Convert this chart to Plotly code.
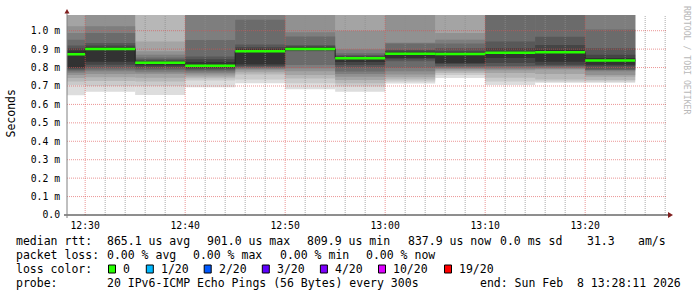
import plotly.graph_objects as go
from datetime import datetime, timedelta

# ---------------- data ----------------
day = "2026-02-08"
seg_end = ["12:30", "12:35", "12:40", "12:45", "12:50", "12:55",
           "13:00", "13:05", "13:10", "13:15", "13:20", "13:25"]
median_ms = [0.872, 0.901, 0.826, 0.810, 0.888, 0.901,
             0.850, 0.875, 0.874, 0.880, 0.883, 0.838]
# 20 sorted ping RTTs (ms) per 5-minute step
pings_0 = [0.650, 0.705, 0.725, 0.743, 0.760, 0.772, 0.780, 0.788, 0.795, 0.802,
           0.893, 0.905, 0.920, 0.951, 0.988, 1.024, 1.10, 1.15, 1.20, 1.30]
pings_1 = [0.669, 0.700, 0.727, 0.748, 0.765, 0.780, 0.790, 0.800, 0.815, 0.832,
           0.910, 0.920, 0.933, 0.988, 1.024, 1.10, 1.15, 1.20, 1.25, 1.30]
pings_2 = [0.651, 0.700, 0.725, 0.745, 0.765, 0.775, 0.785, 0.795, 0.805, 0.812,
           0.832, 0.838, 0.845, 0.855, 0.870, 0.888, 0.942, 1.10, 1.15, 1.20]
pings_3 = [0.693, 0.730, 0.742, 0.752, 0.762, 0.772, 0.780, 0.788, 0.795, 0.802,
           0.830, 0.845, 0.860, 0.950, 1.10, 1.15, 1.20, 1.30, 1.40, 1.50]
pings_4 = [0.715, 0.735, 0.762, 0.775, 0.785, 0.792, 0.797, 0.803, 0.810, 0.818,
           0.900, 0.910, 0.925, 1.060, 1.10, 1.15, 1.20, 1.30, 1.40, 1.50]
pings_5 = [0.682, 0.715, 0.740, 0.760, 0.780, 0.796, 0.814, 0.888, 0.893, 0.897,
           0.910, 0.915, 0.922, 0.968, 0.991, 1.10, 1.15, 1.20, 1.30, 1.40]
pings_6 = [0.669, 0.697, 0.715, 0.733, 0.750, 0.765, 0.778, 0.800, 0.814, 0.830,
           0.857, 0.862, 0.868, 0.877, 0.900, 1.000, 1.10, 1.15, 1.20, 1.30]
pings_7 = [0.714, 0.725, 0.735, 0.748, 0.762, 0.780, 0.798, 0.834, 0.845, 0.852,
           0.885, 0.892, 0.897, 0.930, 0.935, 1.10, 1.15, 1.20, 1.30, 1.40]
pings_8 = [0.743, 0.760, 0.770, 0.780, 0.790, 0.795, 0.800, 0.807, 0.820, 0.825,
           0.880, 0.888, 0.906, 0.930, 0.951, 0.988, 1.10, 1.15, 1.20, 1.30]
pings_9 = [0.706, 0.725, 0.745, 0.770, 0.785, 0.793, 0.800, 0.808, 0.825, 0.852,
           0.888, 0.906, 0.942, 1.10, 1.15, 1.20, 1.25, 1.30, 1.40, 1.50]
pings_10 = [0.717, 0.725, 0.735, 0.765, 0.790, 0.795, 0.800, 0.808, 0.815, 0.832,
            0.895, 0.922, 0.967, 1.10, 1.15, 1.20, 1.25, 1.30, 1.40, 1.50]
pings_11 = [0.718, 0.725, 0.733, 0.750, 0.760, 0.780, 0.787, 0.789, 0.807, 0.815,
            0.852, 0.870, 0.906, 1.006, 1.10, 1.15, 1.20, 1.30, 1.40, 1.50]
pings = [pings_0, pings_1, pings_2, pings_3, pings_4, pings_5,
         pings_6, pings_7, pings_8, pings_9, pings_10, pings_11]

smoke_colors = ["#dddddd", "#cacaca", "#b7b7b7", "#a4a4a4", "#919191",
                "#7e7e7e", "#6b6b6b", "#585858", "#454545", "#323232"]
y_tickvals = [0.0, 0.1, 0.2, 0.3, 0.4, 0.5, 0.6, 0.7, 0.8, 0.9, 1.0]
y_ticktext = ["0.0", "0.1 m", "0.2 m", "0.3 m", "0.4 m", "0.5 m",
              "0.6 m", "0.7 m", "0.8 m", "0.9 m", "1.0 m"]
y_top = 1.0852
x_start = "2026-02-08 12:28:11"
x_end = "2026-02-08 13:28:11"
step_s = 300

loss_labels = ["0", "1/20", "2/20", "3/20", "4/20", "10/20", "19/20"]
loss_colors = ["#26ff00", "#00b8ff", "#0059ff", "#5e00ff", "#7e00ff", "#dd00ff", "#ff0000"]

legend_rtt = ["median rtt:", "865.1 us avg", "901.0 us max", "809.9 us min",
              "837.9 us now", "0.0 ms sd", "31.3", "am/s"]
legend_loss = ["packet loss:", "0.00 % avg", "0.00 % max", "0.00 % min", "0.00 % now"]
legend_probe = ["probe:", "20 IPv6-ICMP Echo Pings (56 Bytes) every 300s",
                "end: Sun Feb\u00a0\u00a08 13:28:11 2026"]

# ---------------- layout geometry ----------------
W, H = 697, 297
L, R, T, B = 67, 667, 15, 215
MONO = "DejaVu Sans Mono"

def px(x):
    return (x - L) / (R - L)

def py(y):
    return (B - y) / (B - T)

ends = [datetime.fromisoformat(f"{day} {t}:00") for t in seg_end]
starts = [e - timedelta(seconds=step_s) for e in ends]
centers = [e - timedelta(seconds=step_s / 2) for e in ends]

fig = go.Figure()

# smoke bands
for k in range(10):
    base = [p[k] for p in pings]
    top = [p[19 - k] for p in pings]
    fig.add_trace(go.Bar(
        x=centers, y=[t - b for t, b in zip(top, base)], base=base,
        width=[step_s * 1000] * len(centers),
        marker=dict(color=smoke_colors[k], line=dict(width=0)),
        hoverinfo="skip", showlegend=False))

# grid (drawn over the smoke, as rrdtool does)
t0 = datetime.fromisoformat(x_start)
t1 = datetime.fromisoformat(x_end)
gt = datetime.fromisoformat(f"{day} 12:30:00")
minor_x, minor_y, major_x, major_y = [], [], [], []
while gt <= t1:
    if gt >= t0:
        if gt.minute % 10 == 0:
            major_x += [gt, gt, None]; major_y += [0, y_top, None]
        else:
            minor_x += [gt, gt, None]; minor_y += [0, y_top, None]
    gt += timedelta(minutes=2)
for v in y_tickvals[1:]:
    major_x += [t0, t1, None]; major_y += [v, v, None]

fig.add_trace(go.Scatter(x=minor_x, y=minor_y, mode="lines",
                         line=dict(color="rgba(143,143,143,0.75)", width=1, dash="1px,1px"),
                         hoverinfo="skip", showlegend=False))
fig.add_trace(go.Scatter(x=major_x, y=major_y, mode="lines",
                         line=dict(color="rgba(222,79,79,0.6)", width=1, dash="1px,1px"),
                         hoverinfo="skip", showlegend=False))

# median: dark step line, then loss-coloured horizontal segments
fig.add_trace(go.Scatter(x=starts + [ends[-1]], y=median_ms + [median_ms[-1]],
                         mode="lines", line=dict(color="#202020", width=1, shape="hv"),
                         hoverinfo="skip", showlegend=False))
gx, gy = [], []
for s, e, m in zip(starts, ends, median_ms):
    gx += [s, e, None]; gy += [m, m, None]
fig.add_trace(go.Scatter(x=gx, y=gy, mode="lines",
                         line=dict(color=loss_colors[0], width=2.5),
                         hoverinfo="skip", showlegend=False))

shapes = []
# axes lines and arrows
shapes.append(dict(type="line", xref="paper", yref="paper",
                   x0=px(64), x1=px(669), y0=0, y1=0,
                   line=dict(color="#1f1f1f", width=1)))
shapes.append(dict(type="line", xref="paper", yref="paper",
                   x0=0, x1=0, y0=py(218), y1=py(13),
                   line=dict(color="#808080", width=1)))
shapes.append(dict(type="path", xref="paper", yref="paper",
                   path=f"M {px(673)} {py(215)} L {px(668)} {py(212)} L {px(668)} {py(218)} Z",
                   fillcolor="#801f1f", line=dict(width=0)))
shapes.append(dict(type="path", xref="paper", yref="paper",
                   path=f"M {px(67)} {py(9)} L {px(64.5)} {py(13.5)} L {px(69.5)} {py(13.5)} Z",
                   fillcolor="#801f1f", line=dict(width=0)))

annotations = []

def text_at(x, y, s, size=11.5, color="#000000", angle=0, xanchor="left"):
    annotations.append(dict(xref="paper", yref="paper", x=px(x), y=py(y), text=s,
                            showarrow=False, xanchor=xanchor, yanchor="middle",
                            textangle=angle, borderpad=0, borderwidth=0,
                            font=dict(family=MONO, size=size, color=color)))

rtt_x = [16, 107.3, 207.3, 307.3, 407.5, 499.5, 586.8, 637.7]
for s, x in zip(legend_rtt, rtt_x):
    text_at(x, 241.2, s)
loss_x = [16, 107.3, 193.3, 279.6, 365.6]
for s, x in zip(legend_loss, loss_x):
    text_at(x, 255.2, s)
text_at(16, 268.9, "loss color:")
swatch_x = [108.5, 146.3, 204.2, 262.3, 320.4, 378.5, 444.5]
for s, c, x in zip(loss_labels, loss_colors, swatch_x):
    shapes.append(dict(type="rect", xref="paper", yref="paper",
                       x0=px(x), x1=px(x + 7), y0=py(273), y1=py(265),
                       fillcolor=c, line=dict(color="#000000", width=1)))
    text_at(x + 14.6, 268.9, s)
probe_x = [16, 107.3, 480]
for s, x in zip(legend_probe, probe_x):
    text_at(x, 282.8, s)

text_at(10.5, 114, "Seconds", angle=-90, xanchor="center")
text_at(687, 60, "RRDTOOL / TOBI OETIKER", size=8.2, color="#b8b8b8", angle=90, xanchor="center")

fig.update_layout(
    width=W, height=H,
    margin=dict(l=L, r=W - R, t=T, b=H - B, pad=0),
    paper_bgcolor="#ffffff", plot_bgcolor="#ffffff",
    barmode="overlay", showlegend=False,
    shapes=shapes, annotations=annotations,
    xaxis=dict(type="date", range=[x_start, x_end], showgrid=False, zeroline=False,
               showline=False, tickformat="%H:%M", dtick=600000,
               tick0=f"{day} 12:30:00", ticks="outside", ticklen=1.5,
               tickcolor="rgba(0,0,0,0)",
               tickfont=dict(family=MONO, size=9.75, color="#000000")),
    yaxis=dict(range=[0, y_top], showgrid=False, zeroline=False, showline=False,
               tickvals=y_tickvals, ticktext=y_ticktext, ticks="outside", ticklen=4,
               tickcolor="rgba(0,0,0,0)",
               tickfont=dict(family=MONO, size=9.75, color="#000000")),
)

fig.write_html("out.html")
